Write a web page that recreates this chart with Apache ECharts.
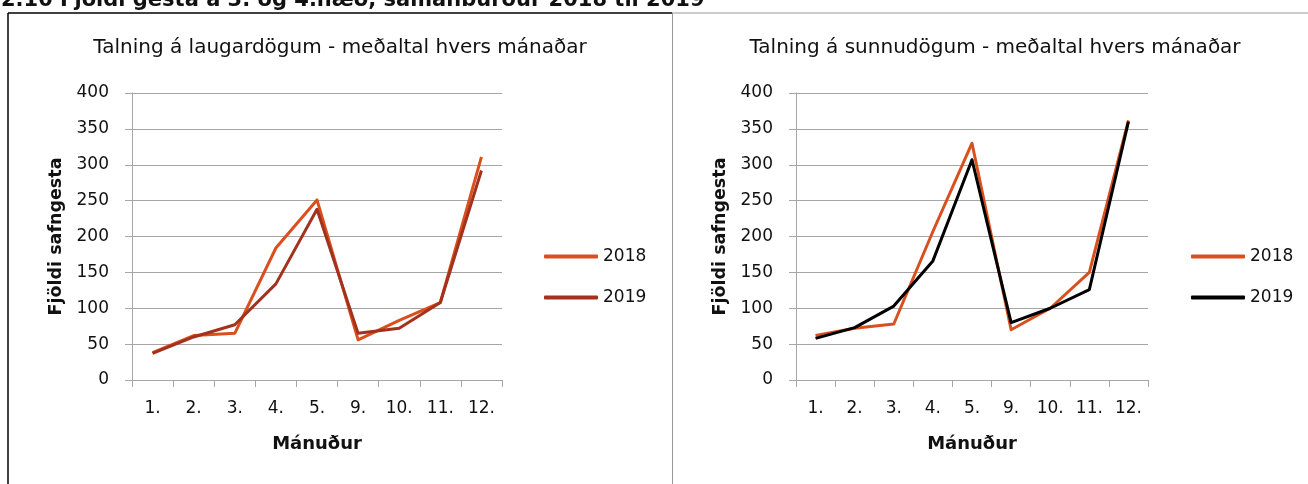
<!DOCTYPE html>
<html>
<head>
<meta charset="utf-8">
<script src="https://cdn.jsdelivr.net/npm/echarts@6/dist/echarts.min.js"></script>
<style>
  body{margin:0;background:#fff;width:1308px;height:484px;overflow:hidden;position:relative}
  #c1{position:absolute;left:0;top:0;width:672px;height:484px}
  #c2{position:absolute;left:672px;top:0;width:636px;height:484px}
  #head{position:absolute;left:1px;top:-13px;font:bold 21px "DejaVu Sans",sans-serif;color:#111;white-space:nowrap;z-index:5}
</style>
</head>
<body>
<div id="head">2.10 Fjöldi gesta á 3. og 4.hæð, samanburður 2018 til 2019</div>
<div id="c1"></div>
<div id="c2"></div>
<script>
// ==================== DATA ====================
const months=['1.','2.','3.','4.','5.','9.','10.','11.','12.'];
const yTicks=[0,400,50];
const satTitle='Talning á laugardögum - meðaltal hvers mánaðar';
const sunTitle='Talning á sunnudögum - meðaltal hvers mánaðar';
const sat2018=[38,62,65,184,251,56,83,108,311];
const sat2019=[37,60,77,134,238,65,72,108,292];
const sun2018=[62,72,78,207,330,70,100,150,362];
const sun2019=[58,73,103,166,307,80,100,126,360];

const FONT='"DejaVu Sans", sans-serif', gridC='#a6a6a6', txt='#111';

function buildOption(p){
  const mk=(name,data,color)=>({name,type:'line',data,symbol:'none',smooth:false,
    lineStyle:{color,width:3,join:'round'},itemStyle:{color},z:3,animation:false});
  return {
    backgroundColor:'transparent',
    textStyle:{fontFamily:FONT},
    graphic:[
      {type:'text',x:p.titleX,y:48,style:{text:p.title,fill:txt,font:'20px '+FONT,align:'center',verticalAlign:'middle'}},
      ...p.borders
    ],
    grid:{left:p.gridL,right:p.gridR,top:93,height:287,containLabel:false},
    xAxis:{type:'category',data:months,boundaryGap:true,
      axisLine:{lineStyle:{color:gridC,width:1}},
      axisTick:{show:true,length:7,lineStyle:{color:gridC}},
      axisLabel:{color:txt,fontSize:17,margin:20,fontFamily:FONT},
      name:'Mánuður',nameLocation:'middle',nameGap:55,
      nameTextStyle:{color:txt,fontSize:18,fontWeight:'bold',fontFamily:FONT},
      splitLine:{show:false}},
    yAxis:{type:'value',min:yTicks[0],max:yTicks[1],interval:yTicks[2],
      axisLine:{show:true,lineStyle:{color:gridC,width:1}},
      axisTick:{show:true,length:7,lineStyle:{color:gridC}},
      axisLabel:{color:txt,fontSize:17,margin:23,fontFamily:FONT},
      splitLine:{lineStyle:{color:gridC,width:1}},
      name:'Fjöldi safngesta',nameLocation:'middle',nameGap:63,
      nameTextStyle:{color:txt,fontSize:17.5,fontWeight:'bold',fontFamily:FONT}},
    legend:{orient:'vertical',left:p.legendL,top:243,itemGap:24,itemWidth:54,itemHeight:4,
      icon:'roundRect',textStyle:{color:txt,fontSize:17,fontFamily:FONT},
      data:['2018','2019']},
    series:[mk('2018',p.a,'#d9501e'),mk('2019',p.b,p.bColor)]
  };
}

const c1=echarts.init(document.getElementById('c1'));
c1.setOption(buildOption({title:satTitle,titleX:340,gridL:132,gridR:170,legendL:539,
  a:sat2018,b:sat2019,bColor:'#a2311e',
  borders:[
    {type:'line',shape:{x1:8,y1:13,x2:8,y2:484},style:{stroke:'#000',lineWidth:1.5}},
    {type:'line',shape:{x1:8,y1:13,x2:672,y2:13},style:{stroke:'#000',lineWidth:1.5}}
  ]}));

const c2=echarts.init(document.getElementById('c2'));
c2.setOption(buildOption({title:sunTitle,titleX:323,gridL:124,gridR:160,legendL:514,
  a:sun2018,b:sun2019,bColor:'#000',
  borders:[
    {type:'line',shape:{x1:0.5,y1:13,x2:0.5,y2:484},style:{stroke:'#999',lineWidth:1}},
    {type:'line',shape:{x1:0,y1:13,x2:636,y2:13},style:{stroke:'#999',lineWidth:1}}
  ]}));
</script>
</body>
</html>
